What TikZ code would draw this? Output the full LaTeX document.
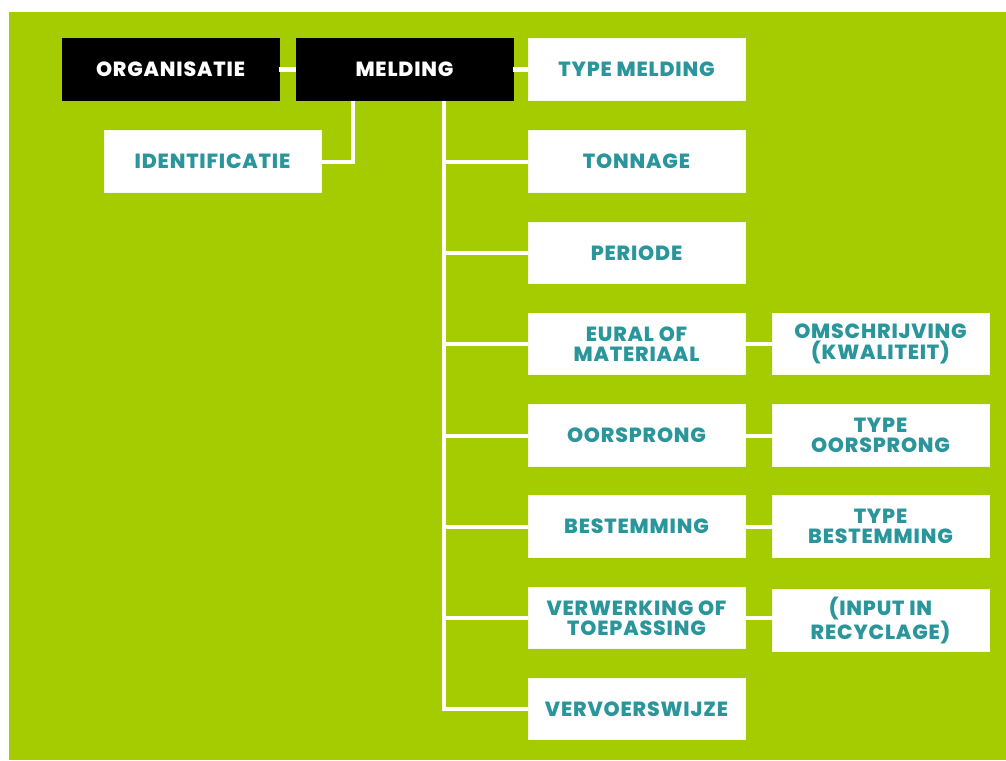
\documentclass[tikz,border=0pt]{standalone}
\usepackage{fontspec}
\setmainfont{Poppins}[BoldFont={Poppins ExtraBold},LetterSpace=4]
\definecolor{bggreen}{RGB}{164,204,0}
\definecolor{teal}{RGB}{42,150,155}
\begin{document}
\begin{tikzpicture}[x=1pt,y=-1pt,
  box/.style={fill=white,draw=white!90!bggreen,line width=0.6pt,minimum width=217pt,minimum height=61.5pt,inner sep=0pt,
    text=teal,font=\fontsize{20.5}{20.5}\selectfont\bfseries,align=center},
  darkbox/.style={box,fill=black,draw=black,text=white},
  link/.style={draw=white,line width=4pt}]
\useasboundingbox (0,0) rectangle (1006,760);
\fill[bggreen] (9,12) rectangle (1006,760);
\node[darkbox] (org) at (170.5,69.5) {ORGANISATIE};
\node[darkbox] (meld) at (404.5,69.5) {MELDING};
\node[box] (typem) at (636.5,69.5) {TYPE MELDING};
\node[box] (ident) at (212.5,161.5) {IDENTIFICATIE};
\node[box] (tonnage) at (636.5,161.5) {TONNAGE};
\node[box] (periode) at (636.5,253) {PERIODE};
\node[box] (eural) at (636.5,344) {EURAL OF\\MATERIAAL};
\node[box] (oorsprong) at (636.5,435.5) {OORSPRONG};
\node[box] (bestemming) at (636.5,526.5) {BESTEMMING};
\node[box] (verwerking) at (636.5,618) {VERWERKING OF\\TOEPASSING};
\node[box] (vervoer) at (636.5,709) {VERVOERSWIJZE};
\node[box] (omschr) at (880.5,344) {OMSCHRIJVING\\(KWALITEIT)};
\node[box] (typeoor) at (880.5,435.5) {TYPE\\OORSPRONG};
\node[box] (typebest) at (880.5,526.5) {TYPE\\BESTEMMING};
\node[box] (input) at (880.5,620.5) {(INPUT IN\\RECYCLAGE)};
\coordinate (t) at (444,0);
\coordinate (u) at (353,0);
\draw[link] (org.east) -- (meld.west);
\draw[link] (meld.east) -- (typem.west);
\draw[link] (meld.south -| u) |- (ident.east);
\draw[link] (meld.south -| t) -- (t |- vervoer.west) -- (vervoer.west);
\foreach \n in {tonnage,periode,eural,oorsprong,bestemming,verwerking}
  \draw[link] (t |- \n.west) -- (\n.west);
\draw[link] (eural.east) -- (omschr.west);
\draw[link] (oorsprong.east) -- (typeoor.west);
\draw[link] (bestemming.east) -- (typebest.west);
\draw[link] (verwerking.east) -- (input.west |- verwerking.east);
\end{tikzpicture}
\end{document}
